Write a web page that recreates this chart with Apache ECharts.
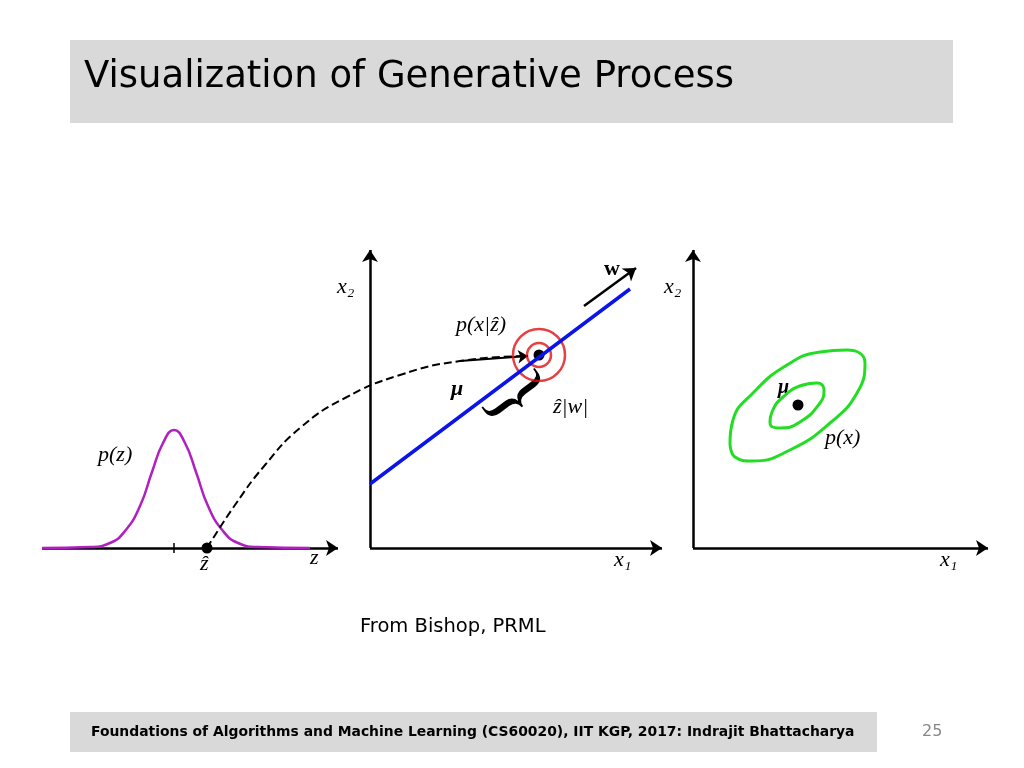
<!DOCTYPE html>
<html>
<head>
<meta charset="utf-8">
<script src="https://cdn.jsdelivr.net/npm/echarts@6/dist/echarts.min.js"></script>
<style>html,body{margin:0;background:#fff}#chart{width:1024px;height:768px}</style>
</head>
<body>
<div id="chart"></div>
<script>
// all marks live on one page-sized cartesian plane (y grows downwards)
const gaussian = [[42,548],[90,547],[110,543],[125,531],[140,506],[152,472],[163,443],[174,430],[185,443],[196,472],[208,506],[223,531],[238,543],[258,547],[310,548]];
const dashedPath = [[207,548],[235,505],[265,465],[300,428],[345,398],[400,375],[460,361],[528,356]];
const meanLine = [[370,484],[630,289]];
const zHat = [207,548];
const zTick = [[174,543],[174,553]];
const xHat = [539,355];
const outerEllipse = [[730,443],[733,420],[753,393],[787,365],[820,352],[847,350],[865,363],[857,393],[830,423],[790,450],[752,461],[735,457],[730,443]];
const innerEllipse = [[770,422],[772,412],[783,397],[803,385],[817,383],[824,390],[820,403],[800,422],[780,428],[771,426],[770,422]];
const mu = [798,405];
const arrows = [
  [[42,548],[338,548]], [[370,548],[370,250]], [[370,548],[662,548]],
  [[693,548],[693,250]], [[693,548],[988,548]], [[584,306],[636,268]]
];
const redRadius = [12, 26];

const chart = echarts.init(document.getElementById('chart'));
const mathFont = 'italic 22px "Liberation Serif"';
const txt = (x, y, s, font, fill) => ({type:'text', left:x, top:y, style:{text:s, font:font, fill:fill || '#000'}});

chart.setOption({
  animation: false,
  grid: {left:0, right:0, top:0, bottom:0},
  xAxis: {type:'value', min:0, max:1024, show:false},
  yAxis: {type:'value', min:0, max:768, inverse:true, show:false},
  graphic: [
    {type:'rect', shape:{x:70, y:40, width:883, height:83}, style:{fill:'#d9d9d9'}},
    txt(84, 59, 'Visualization of Generative Process', '37px "DejaVu Sans"'),
    {type:'rect', shape:{x:70, y:712, width:807, height:40}, style:{fill:'#d9d9d9'}},
    txt(91, 725, 'Foundations of Algorithms and Machine Learning (CS60020), IIT KGP, 2017: Indrajit Bhattacharya', 'bold 13.9px "DejaVu Sans"'),
    txt(922, 724, '25', '16px "DejaVu Sans"', '#888'),
    txt(360, 617, 'From Bishop, PRML', '19.5px "DejaVu Sans"'),
    txt(98, 444, 'p(z)', mathFont),
    txt(200, 553, 'ẑ', mathFont),
    txt(310, 547, 'z', mathFont),
    txt(337, 276, 'x₂', mathFont),
    txt(614, 549, 'x₁', mathFont),
    txt(456, 314, 'p(x|ẑ)', mathFont),
    txt(451, 378, 'μ', 'bold italic 22px "Liberation Serif"'),
    txt(553, 396, 'ẑ|w|', mathFont),
    txt(604, 258, 'w', 'bold 22px "Liberation Serif"'),
    {type:'text', x:514, y:398, rotation:-0.93, style:{text:'}', font:'80px "Liberation Serif"', fill:'#000', align:'center', verticalAlign:'middle'}},
    txt(664, 276, 'x₂', mathFont),
    txt(940, 549, 'x₁', mathFont),
    txt(778, 378, 'μ', 'bold italic 20px "Liberation Serif"'),
    txt(825, 427, 'p(x)', mathFont)
  ],
  series: [
    {type:'lines', coordinateSystem:'cartesian2d', symbol:['none','arrow'], symbolSize:12,
     lineStyle:{color:'#000', width:2.5, opacity:1}, data: arrows.map(c => ({coords:c}))},
    {type:'line', data:zTick, symbol:'none', lineStyle:{color:'#000', width:1.5}},
    {type:'line', data:gaussian, smooth:true, symbol:'none', lineStyle:{color:'#b01fc0', width:2.5}},
    {type:'line', data:meanLine, symbol:'none', lineStyle:{color:'#0a14e6', width:3.5}},
    {type:'line', data:outerEllipse, smooth:0.5, symbol:'none', lineStyle:{color:'#22dd22', width:3}},
    {type:'line', data:innerEllipse, smooth:0.5, symbol:'none', lineStyle:{color:'#22dd22', width:3}},
    {type:'line', data:dashedPath, smooth:true, symbol:'none', lineStyle:{color:'#000', width:2, type:'dashed'}},
    {type:'lines', coordinateSystem:'cartesian2d', symbol:['none','arrow'], symbolSize:10,
     lineStyle:{color:'#000', width:2, opacity:1}, data:[{coords:dashedPath.slice(-2)}]},
    {type:'scatter', data:[xHat, xHat], symbolSize:(v, p) => redRadius[p.dataIndex] * 2,
     itemStyle:{color:'transparent', borderColor:'#e01010', borderWidth:2.5}},
    {type:'scatter', data:[zHat, xHat, mu], symbolSize:11, itemStyle:{color:'#000', opacity:1}}
  ]
});
</script>
</body>
</html>
